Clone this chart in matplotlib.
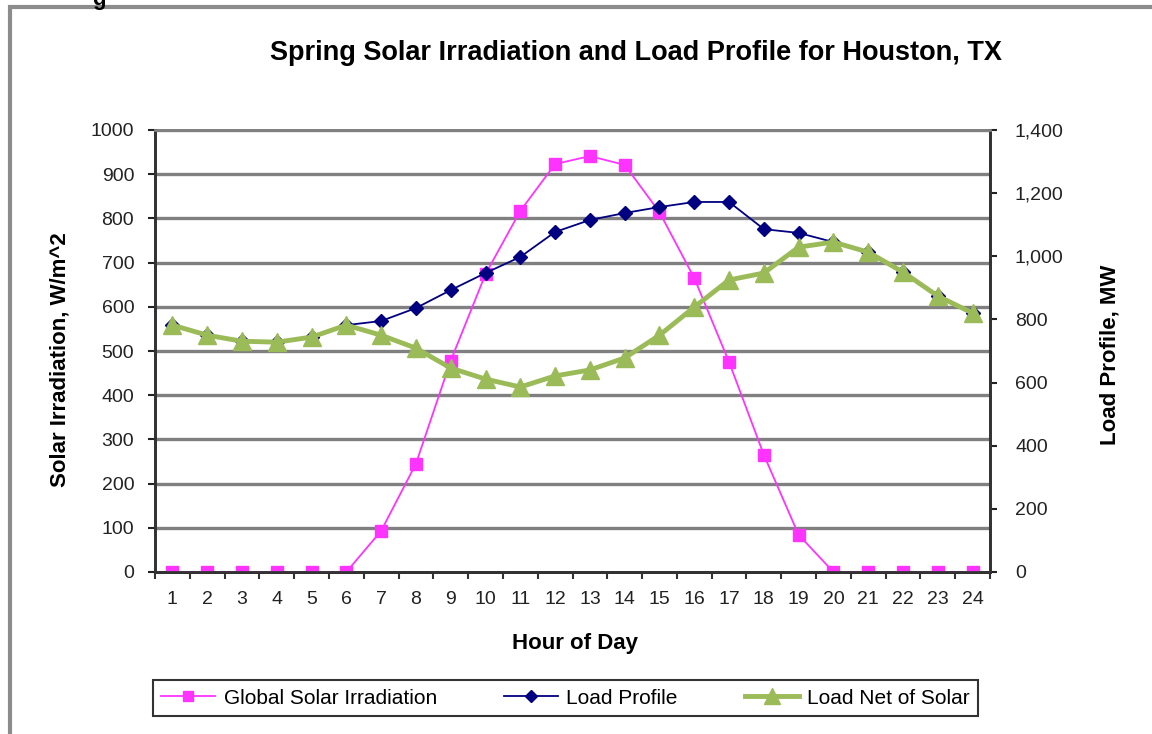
# -*- coding: utf-8 -*-
# Spring solar irradiation and load profile, Houston TX

import matplotlib
matplotlib.use("Agg")
import matplotlib.pyplot as plt
from matplotlib.patches import Rectangle

plt.rcParams['font.family'] = ['Liberation Sans', 'DejaVu Sans']

hours = list(range(1, 25))
solar = [0, 0, 0, 0, 0, 0, 93, 245, 478, 674, 817, 923,
         941, 921, 814, 665, 475, 265, 84, 0, 0, 0, 0, 0]
load = [782, 750, 731, 728, 744, 782, 795, 836, 893, 947, 998, 1077,
        1115, 1137, 1156, 1172, 1172, 1086, 1074, 1045, 1013, 950, 874, 820]
net = [782, 750, 731, 728, 744, 782, 750, 709, 646, 611, 586, 621,
       640, 678, 750, 839, 925, 947, 1029, 1045, 1013, 950, 874, 820]

left_ticks = list(range(0, 1001, 100))
right_ticks = list(range(0, 1401, 200))

W, H = 1152, 734
fig = plt.figure(figsize=(W/100, H/100), dpi=100)
ax = fig.add_axes([155/W, 1 - 572/H, 835/W, 442/H])
ax2 = ax.twinx()

# outer gray frame (partly cut off in the source image)
fig.patches.append(Rectangle((10/W, -0.1), 1.2, 1 - 7/H + 0.1,
                             transform=fig.transFigure, fill=False,
                             edgecolor='#8c8c8c', linewidth=3))
fig.text(92/W, 1.0, 'g', ha='left', va='center', fontsize=16,
         fontweight='bold')

for v in left_ticks[1:]:
    ax.axhline(v, color='#808080', linewidth=2.4, zorder=0)

l1, = ax.plot(hours, solar, color='#ff33ff', marker='s', markersize=9,
              linewidth=1.3, label='Global Solar Irradiation', zorder=3)
l2, = ax2.plot(hours, load, color='#000080', marker='D', markersize=7,
               linewidth=1.3, label='Load Profile')
l3, = ax2.plot(hours, net, color='#9bbb59', marker='^', markersize=13,
               linewidth=3.5, label='Load Net of Solar')

ax.set_xlim(0.5, 24.5)
ax.set_ylim(0, 1000)
ax2.set_ylim(0, 1400)
ax.set_xticks(hours)
ax.set_xticks([h + 0.5 for h in range(0, 25)], minor=True)
ax.set_yticks(left_ticks)
ax2.set_yticks(right_ticks)
ax2.set_yticklabels(['{:,}'.format(v) for v in right_ticks])

for a in (ax, ax2):
    for s in a.spines.values():
        s.set_linewidth(2)
        s.set_color('#333333')
    a.spines['top'].set_color('#808080')
    a.tick_params(labelsize=14, colors='#222222', length=5, width=1.5,
                  direction='out', pad=6)
ax.tick_params(axis='y', pad=10)
ax2.tick_params(axis='y', pad=13)
ax.spines['bottom'].set_color('#111111')
ax.tick_params(axis='x', which='major', length=0, pad=14)
ax.tick_params(axis='x', which='minor', length=5, width=1.5,
               color='#333333', direction='out')

fig.text(636/W, 1 - 53/H,
         'Spring Solar Irradiation and Load Profile for Houston, TX',
         ha='center', va='center', fontsize=19.5, fontweight='bold')
fig.text(575/W, 1 - 643/H, 'Hour of Day', ha='center', va='center',
         fontsize=16, fontweight='bold')
fig.text(60/W, 1 - 360/H, 'Solar Irradiation, W/m^2', ha='center',
         va='center', rotation=90, fontsize=16, fontweight='bold')
fig.text(1110/W, 1 - 355/H, 'Load Profile, MW', ha='center',
         va='center', rotation=90, fontsize=16, fontweight='bold')

leg = fig.legend([l1, l2, l3], [l.get_label() for l in (l1, l2, l3)],
                 loc='center', bbox_to_anchor=(153/W, 1 - 720/H, 825/W, 44/H),
                 mode='expand', ncol=3, fontsize=15, frameon=True,
                 fancybox=False, edgecolor='black', borderpad=0.4,
                 borderaxespad=0, handlelength=2.6, handletextpad=0.4,
                 markerscale=0.85)
leg.get_frame().set_linewidth(1.5)

fig.savefig('out.png', dpi=100)
